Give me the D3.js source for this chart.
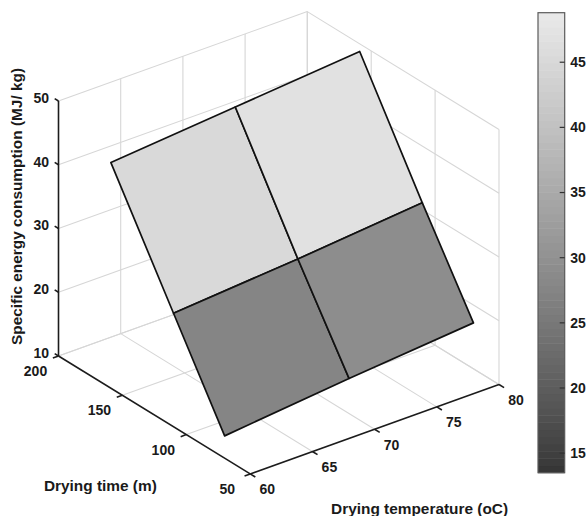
<!DOCTYPE html>
<html>
<head>
<meta charset="utf-8">
<script src="https://cdn.jsdelivr.net/npm/d3@7"></script>
<style>
  html, body { margin: 0; padding: 0; background: #fff; }
  svg { display: block; font-family: "Liberation Sans", Arial, Helvetica, sans-serif; font-weight: bold; }
</style>
</head>
<body>
<svg id="chart" width="588" height="516"></svg>
<script>
// Surface grid: drying temperature (oC) across, drying time (m) down the rows
const temperatures = [60, 70, 80];
const times = [159, 110, 70];
// Specific energy consumption (MJ/kg), one row per drying time
const energyAt159 = [45.4, 47.1, 48.8];
const energyAt110 = [27.8, 29.3, 31.1];
const energyAt70  = [13.5, 15.5, 17.2];
const energy = [energyAt159, energyAt110, energyAt70];

// Axis ticks
const tempTicks = [60, 65, 70, 75, 80];
const timeTicks = [50, 100, 150, 200];
const energyTicks = [10, 20, 30, 40, 50];
const colorTicks = [15, 20, 25, 30, 35, 40, 45];

const svg = d3.select("#chart");

// Data -> fraction of the plot box along each axis
const xT = d3.scaleLinear().domain([60, 80]).range([0, 1]);
const yt = d3.scaleLinear().domain([200, 50]).range([0, 1]);
const zE = d3.scaleLinear().domain([10, 50]).range([0, 1]);

// Orthographic view: screen position of the box origin and its three edge vectors
const origin = [58.5, 356];
const ex = [248.8, -89.4];
const ey = [191.7, 117.9];
const ez = [0, -255];

function project(T, t, E) {
  const a = xT(T), b = yt(t), c = zE(E);
  return [origin[0] + a * ex[0] + b * ey[0] + c * ez[0],
          origin[1] + a * ex[1] + b * ey[1] + c * ez[1]];
}
function unit(p, q) {
  const dx = q[0] - p[0], dy = q[1] - p[1], L = Math.hypot(dx, dy);
  return [dx / L, dy / L];
}

const gridColor = "#d6d6d6";
const axisColor = "#1c1c1c";
const line = d3.line();

const gGrid = svg.append("g").attr("fill", "none").attr("stroke", gridColor).attr("stroke-width", 1.1);
const seg = (g, a, b) => g.append("path").attr("d", line([a, b]));

// Floor (lowest energy level)
tempTicks.filter(T => T !== 60).forEach(T => seg(gGrid, project(T, 200, 10), project(T, 50, 10)));
timeTicks.filter(t => t !== 50).forEach(t => seg(gGrid, project(60, t, 10), project(80, t, 10)));
// Back wall at the longest drying time
tempTicks.filter(T => T !== 60).forEach(T => seg(gGrid, project(T, 200, 10), project(T, 200, 50)));
energyTicks.forEach(E => seg(gGrid, project(60, 200, E), project(80, 200, E)));
// Side wall at the highest temperature
timeTicks.forEach(t => seg(gGrid, project(80, t, 10), project(80, t, 50)));
energyTicks.forEach(E => seg(gGrid, project(80, 200, E), project(80, 50, E)));

// Axis lines
const gAxis = svg.append("g").attr("fill", "none").attr("stroke", axisColor).attr("stroke-width", 1.6);
seg(gAxis, project(60, 200, 10), project(60, 200, 50));
seg(gAxis, project(60, 200, 10), project(60, 50, 10));
seg(gAxis, project(60, 50, 10), project(80, 50, 10));

// Tick marks point outward along one of the other axes
const dirUpTime = unit(project(60, 50, 10), project(60, 200, 10));   // towards longer times
const dirDownTemp = unit(project(80, 50, 10), project(60, 50, 10));  // towards lower temperature
const dirDownTime = unit(project(60, 200, 10), project(60, 50, 10)); // towards shorter times

const gText = svg.append("g").attr("fill", "#1a1a1a").style("font-size", "14px");

energyTicks.forEach(E => {
  const p = project(60, 200, E);
  seg(gAxis, p, [p[0] + dirUpTime[0] * 4.5, p[1] + dirUpTime[1] * 4.5]);
  gText.append("text").attr("x", p[0] - 9.5).attr("y", p[1] - 3).attr("dy", "0.35em")
    .attr("text-anchor", "end").text(E);
});
timeTicks.forEach(t => {
  const p = project(60, t, 10);
  seg(gAxis, p, [p[0] + dirDownTemp[0] * 6, p[1] + dirDownTemp[1] * 6]);
  gText.append("text").attr("x", p[0] - 23).attr("y", p[1] + 15).attr("dy", "0.35em")
    .attr("text-anchor", "middle").text(t);
});
tempTicks.forEach(T => {
  const p = project(T, 50, 10);
  seg(gAxis, p, [p[0] + dirDownTime[0] * 6, p[1] + dirDownTime[1] * 6]);
  gText.append("text").attr("x", p[0] + 17).attr("y", p[1] + 15.5).attr("dy", "0.35em")
    .attr("text-anchor", "middle").text(T);
});

// Axis titles
const gTitle = svg.append("g").attr("fill", "#1a1a1a").style("font-size", "15.4px").attr("text-anchor", "middle");
const mt = project(60, 125, 10);
gTitle.append("text").attr("x", mt[0] - 54).attr("y", mt[1] + 71).attr("dy", "0.35em").text("Drying time (m)");
const mT = project(70, 50, 10);
gTitle.append("text").attr("x", mT[0] + 45).attr("y", mT[1] + 79).attr("dy", "0.35em").text("Drying temperature (oC)");
const mE = project(60, 200, 30);
gTitle.append("text").attr("transform", `translate(${mE[0] - 42},${mE[1] - 22}) rotate(-90)`)
  .attr("dy", "0.35em").text("Specific energy consumption (MJ/ kg)");

// Gray colormap, 64 levels over the data range
const cExtent = d3.extent(energy.flat());
const nLevels = 64;
const grayRamp = d3.interpolateRgb("#363636", "#e8e8e8");
const gray = f => grayRamp(Math.pow(f, 0.88));
const levelOf = v => Math.max(0, Math.min(nLevels - 1,
  Math.floor((v - cExtent[0]) / (cExtent[1] - cExtent[0]) * nLevels)));
const colorOf = v => gray(levelOf(v) / (nLevels - 1));

// Surface patches, each coloured by its first grid vertex
const gSurf = svg.append("g").attr("stroke", "#111").attr("stroke-width", 1.7).attr("stroke-linejoin", "round");
for (let i = 0; i < times.length - 1; i++) {
  for (let j = 0; j < temperatures.length - 1; j++) {
    const corners = [
      project(temperatures[j], times[i], energy[i][j]),
      project(temperatures[j + 1], times[i], energy[i][j + 1]),
      project(temperatures[j + 1], times[i + 1], energy[i + 1][j + 1]),
      project(temperatures[j], times[i + 1], energy[i + 1][j])
    ];
    gSurf.append("path").attr("d", line(corners) + "Z").attr("fill", colorOf(energy[i][j]));
  }
}

// Colorbar
const cb = { x: 538, w: 26.7, top: 12.7, bottom: 472.7 };
const cScale = d3.scaleLinear().domain(cExtent).range([cb.bottom, cb.top]);
const gBar = svg.append("g");
d3.range(nLevels).forEach(k => {
  const v0 = cExtent[0] + (cExtent[1] - cExtent[0]) * k / nLevels;
  const v1 = cExtent[0] + (cExtent[1] - cExtent[0]) * (k + 1) / nLevels;
  gBar.append("rect").attr("x", cb.x).attr("width", cb.w)
    .attr("y", cScale(v1)).attr("height", cScale(v0) - cScale(v1) + 0.5)
    .attr("fill", gray(k / (nLevels - 1)));
});
gBar.append("rect").attr("x", cb.x).attr("y", cb.top).attr("width", cb.w).attr("height", cb.bottom - cb.top)
  .attr("fill", "none").attr("stroke", "#5a5a5a").attr("stroke-width", 1.2);
colorTicks.forEach(v => {
  const y = cScale(v);
  gBar.append("line").attr("x1", cb.x + cb.w - 5).attr("x2", cb.x + cb.w).attr("y1", y).attr("y2", y)
    .attr("stroke", "#333").attr("stroke-width", 1.2);
  gText.append("text").attr("x", cb.x + cb.w + 5.5).attr("y", y).attr("dy", "0.35em")
    .attr("text-anchor", "start").text(v);
});
</script>
</body>
</html>
